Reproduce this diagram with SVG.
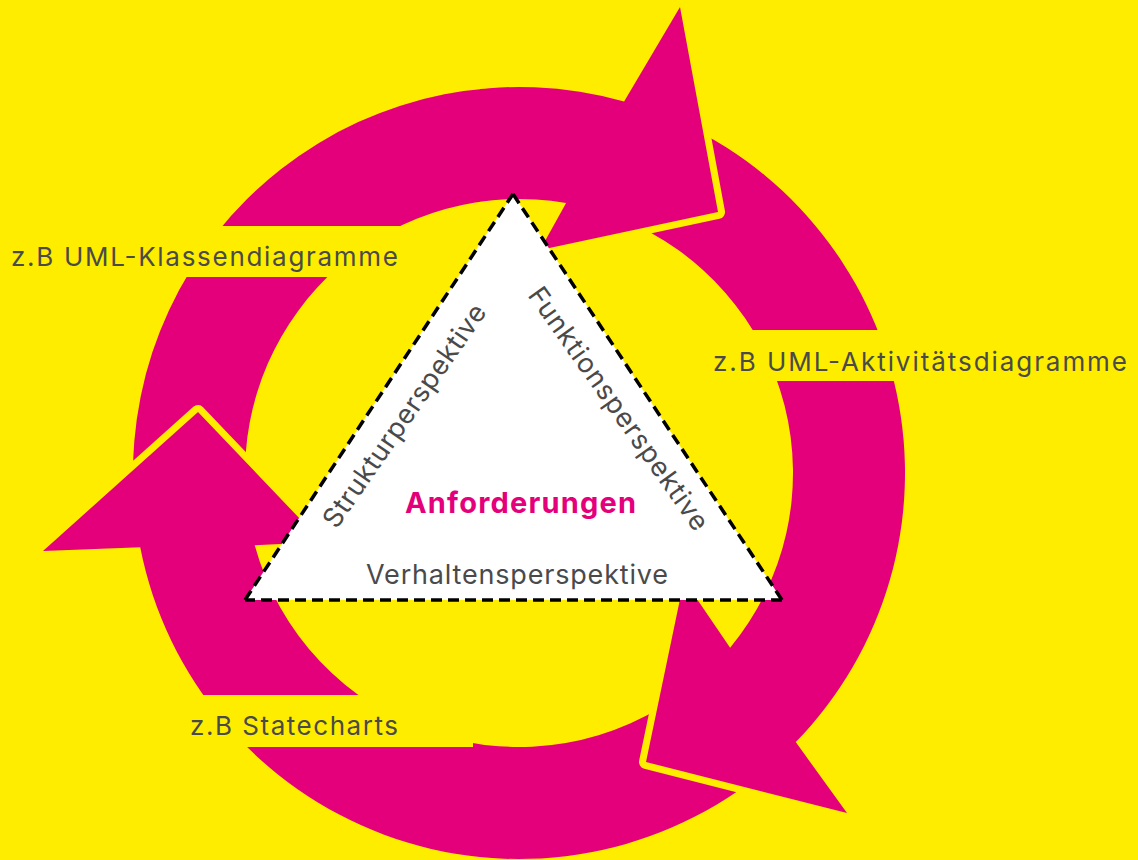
<svg xmlns="http://www.w3.org/2000/svg" width="1138" height="860" viewBox="0 0 1138 860">
  <style>
    .arrow { fill: #e4007b; stroke: #ffed00; stroke-width: 14; stroke-linejoin: round; paint-order: stroke; }
    .label-bg { fill: #ffed00; }
    .label { font-family: Inter, "Liberation Sans", sans-serif; font-size: 26px; fill: #4a4a4a; }
    .persp { font-family: Inter, "Liberation Sans", sans-serif; font-size: 27px; fill: #4a4a4a; }
    .core { font-family: Inter, "Liberation Sans", sans-serif; font-size: 29px; font-weight: bold; fill: #e4007b; }
    .edge { stroke: #000; stroke-width: 3.5; stroke-dasharray: 11 6; fill: none; }
  </style>
  <defs>
    <!-- three ring-segment arrows around centre (519,473), R=386, r=274 -->
    <path id="arrow-top" d="M 133.24 486.47 A 386 386 0 0 1 624.10 101.58 L 680 7 L 718 212 L 540 250 L 566.11 203.08 A 274 274 0 0 0 245.17 482.56 Z"/>
    <path id="arrow-right" d="M 663.60 115.11 A 386 386 0 0 1 795.73 742.11 L 847 813 L 646 762 L 684 580 L 730.12 647.65 A 274 274 0 0 0 621.64 218.95 Z"/>
    <path id="arrow-bottom" d="M 756.65 777.17 A 386 386 0 0 1 140.22 547.31 L 43 551 L 198 412 L 322 542 L 254.71 545.30 A 274 274 0 0 0 687.69 688.91 Z"/>
    <clipPath id="top-head-clip">
      <rect x="480" y="0" width="320" height="300"/>
    </clipPath>
  </defs>

  <rect width="1138" height="860" fill="#ffed00"/>

  <!-- cycle of arrows; each head overlaps the next tail -->
  <g id="connectors">
    <use href="#arrow-top" class="arrow"/>
    <use href="#arrow-bottom" class="arrow"/>
    <use href="#arrow-right" class="arrow"/>
    <use href="#arrow-top" class="arrow" clip-path="url(#top-head-clip)"/>
  </g>

  <g id="label-klassen">
    <rect class="label-bg" x="0" y="226" width="405" height="51"/>
    <text class="label" x="11" y="266" textLength="387">z.B UML-Klassendiagramme</text>
  </g>
  <g id="label-aktivitaet">
    <rect class="label-bg" x="700" y="330" width="438" height="51"/>
    <text class="label" x="713" y="371" textLength="414">z.B UML-Aktivitätsdiagramme</text>
  </g>
  <g id="label-statecharts">
    <rect class="label-bg" x="185" y="695" width="288" height="52"/>
    <text class="label" x="190" y="735" textLength="208">z.B Statecharts</text>
  </g>

  <g id="anforderungen">
    <polygon points="513,194 782,600 245,600" fill="#fff"/>
    <line class="edge" x1="513" y1="194" x2="782" y2="600"/>
    <line class="edge" x1="782" y1="600" x2="245" y2="600"/>
    <line class="edge" x1="245" y1="600" x2="513" y2="194"/>
    <text class="core" x="520.5" y="513" text-anchor="middle" textLength="231">Anforderungen</text>
    <text class="persp" x="517" y="584" text-anchor="middle" textLength="302">Verhaltensperspektive</text>
    <text class="persp" transform="translate(412,421) rotate(-55.3)" text-anchor="middle" textLength="265">Strukturperspektive</text>
    <text class="persp" transform="translate(611,414) rotate(54.7)" text-anchor="middle" textLength="291">Funktionsperspektive</text>
  </g>
</svg>
